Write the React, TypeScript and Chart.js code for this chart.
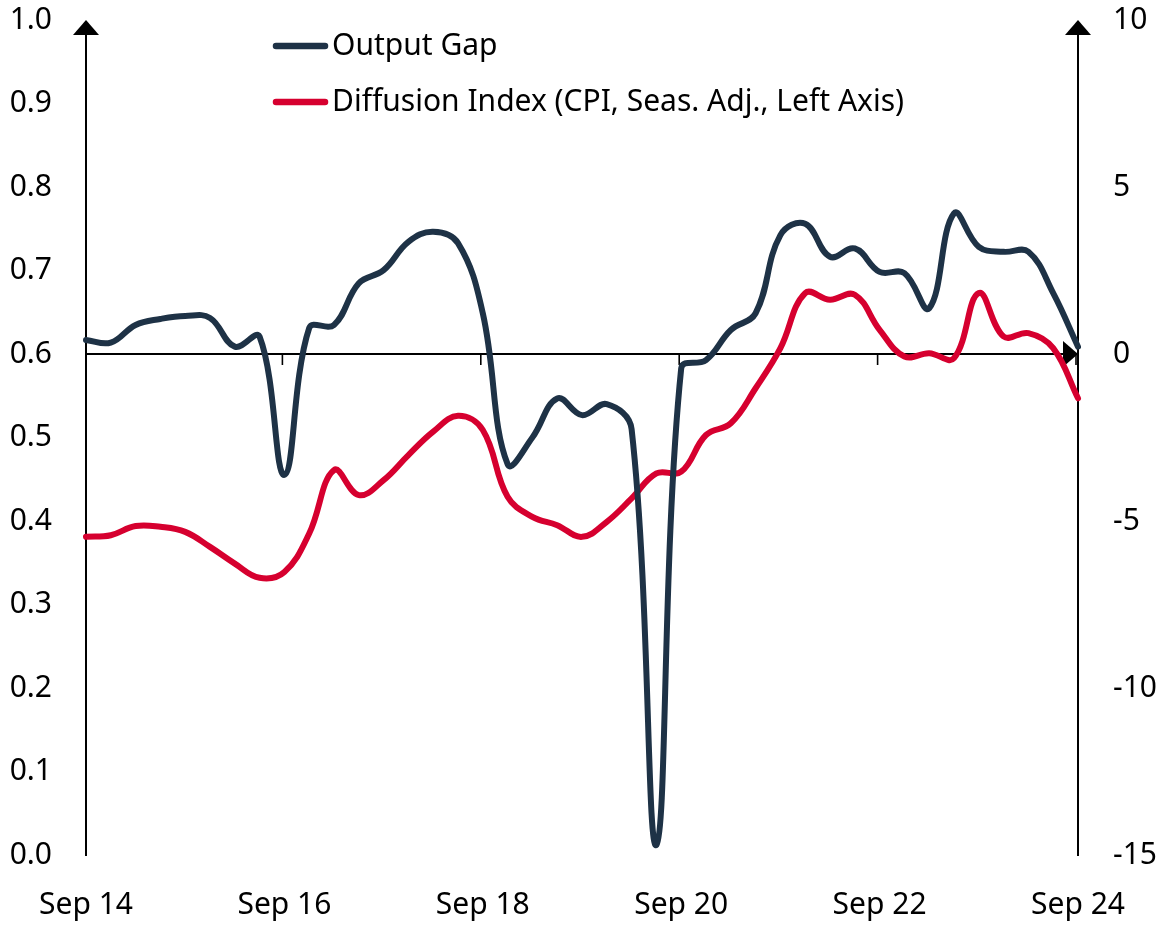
import React, { useEffect, useRef } from "react";
import { Chart, registerables } from "chart.js";

Chart.register(...registerables);

const quarters = [
  "Sep 14", "Dec 14",
  "Mar 15", "Jun 15", "Sep 15", "Dec 15",
  "Mar 16", "Jun 16", "Sep 16", "Dec 16",
  "Mar 17", "Jun 17", "Sep 17", "Dec 17",
  "Mar 18", "Jun 18", "Sep 18", "Dec 18",
  "Mar 19", "Jun 19", "Sep 19", "Dec 19",
  "Mar 20", "Jun 20", "Sep 20", "Dec 20",
  "Mar 21", "Jun 21", "Sep 21", "Dec 21",
  "Mar 22", "Jun 22", "Sep 22", "Dec 22",
  "Mar 23", "Jun 23", "Sep 23", "Dec 23",
  "Mar 24", "Jun 24", "Sep 24",
];

const tickLabels = ["Sep 14", "Sep 16", "Sep 18", "Sep 20", "Sep 22", "Sep 24"];

// Output gap, right axis
const outputGap = [
  0.42, 0.34, 0.87, 1.05, 1.14, 1.08, 0.22, 0.52, -3.62, 0.78,
  0.87, 2.12, 2.51, 3.36, 3.66, 3.32, 1.22, -3.3, -2.5, -1.33,
  -1.83, -1.5, -2.25, -14.7, -0.43, -0.18, 0.72, 1.22, 3.56, 3.9,
  2.91, 3.16, 2.46, 2.42, 1.37, 4.21, 3.21, 3.06, 3.06, 1.82,
  0.22,
];

// Diffusion index (CPI, seas. adj.), left axis
const diffusion = [
  0.381, 0.383, 0.394, 0.393, 0.387, 0.369, 0.349, 0.332, 0.339, 0.385,
  0.461, 0.431, 0.449, 0.479, 0.507, 0.526, 0.509, 0.429, 0.405, 0.395,
  0.381, 0.399, 0.427, 0.457, 0.459, 0.503, 0.517, 0.559, 0.607, 0.673,
  0.665, 0.671, 0.629, 0.597, 0.601, 0.595, 0.673, 0.621, 0.625, 0.607,
  0.547,
];

const seriesNames = ["Output Gap", "Diffusion Index (CPI, Seas. Adj., Left Axis)"];
const NAVY = "#1e3246";
const RED = "#d6002f";
const FONT = '"Noto Sans", sans-serif';

const axesPlugin = {
  id: "axesPlugin",
  beforeDatasetsDraw(chart: any) {
    const { ctx, chartArea, scales } = chart;
    const { left, right, top, bottom } = chartArea;
    const y0 = scales.y1.getPixelForValue(0);
    ctx.save();
    ctx.strokeStyle = "#000";
    ctx.fillStyle = "#000";
    ctx.lineWidth = 2;
    // vertical axes
    [left, right].forEach((x) => {
      ctx.beginPath();
      ctx.moveTo(x, bottom + 1);
      ctx.lineTo(x, top + 10);
      ctx.stroke();
      ctx.beginPath();
      ctx.moveTo(x, top);
      ctx.lineTo(x - 13, top + 15);
      ctx.lineTo(x + 13, top + 15);
      ctx.closePath();
      ctx.fill();
    });
    // horizontal zero axis
    ctx.lineWidth = 2;
    ctx.beginPath();
    ctx.moveTo(left, y0);
    ctx.lineTo(right - 10, y0);
    ctx.stroke();
    ctx.beginPath();
    ctx.moveTo(right, y0);
    ctx.lineTo(right - 15, y0 - 13);
    ctx.lineTo(right - 15, y0 + 13);
    ctx.closePath();
    ctx.fill();
    // tick marks
    ctx.lineWidth = 1.6;
    quarters.forEach((q, i) => {
      if (i % 8 === 0 && i > 0) {
        const x = scales.x.getPixelForValue(i) - 2;
        ctx.beginPath();
        ctx.moveTo(x, y0);
        ctx.lineTo(x, y0 + 11);
        ctx.stroke();
      }
    });
    ctx.restore();
  },
  afterDraw(chart: any) {
    const { ctx } = chart;
    ctx.save();
    const rows = [
      { color: NAVY, text: seriesNames[0], y: 46 },
      { color: RED, text: seriesNames[1], y: 102 },
    ];
    rows.forEach((r) => {
      ctx.strokeStyle = r.color;
      ctx.lineWidth = 6.5;
      ctx.lineCap = "round";
      ctx.beginPath();
      ctx.moveTo(276, r.y);
      ctx.lineTo(325, r.y);
      ctx.stroke();
      ctx.fillStyle = "#000";
      ctx.font = "30px " + FONT;
      ctx.textBaseline = "middle";
      ctx.textAlign = "left";
      ctx.fillText(r.text, 332, r.y);
    });
    ctx.restore();
  },
};

const fitVertical = (w: number) => (s: any) => {
  s.width = w;
  s.paddingTop = 0;
  s.paddingBottom = 0;
};

export default function App() {
  const ref = useRef<HTMLCanvasElement>(null);
  useEffect(() => {
    if (!ref.current) return;
    const chart = new Chart(ref.current, {
      type: "line",
      data: {
        labels: quarters,
        datasets: [
          {
            label: seriesNames[0],
            data: outputGap,
            yAxisID: "y1",
            borderColor: NAVY,
            borderWidth: 6,
            pointRadius: 0,
            tension: 0.4,
            borderCapStyle: "round",
            borderJoinStyle: "round",
            clip: false as any,
          },
          {
            label: seriesNames[1],
            data: diffusion,
            yAxisID: "y",
            borderColor: RED,
            borderWidth: 6,
            pointRadius: 0,
            tension: 0.4,
            borderCapStyle: "round",
            borderJoinStyle: "round",
            clip: false as any,
          },
        ],
      },
      options: {
        responsive: false,
        animation: false,
        layout: { padding: { top: 20, left: 0, right: 0, bottom: 0 } },
        plugins: { legend: { display: false }, tooltip: { enabled: false } },
        scales: {
          x: {
            type: "category",
            offset: false,
            grid: { display: false, drawTicks: false },
            border: { display: false },
            ticks: {
              autoSkip: false,
              maxRotation: 0,
              minRotation: 0,
              padding: 32,
              color: "#000",
              font: { family: FONT, size: 30 },
              callback: (v: any, i: number) => (tickLabels.includes(quarters[i]) && i % 8 === 0 ? quarters[i] : ""),
            },
            afterFit: (s: any) => {
              s.height = 71;
              s.paddingLeft = 0;
              s.paddingRight = 0;
            },
          },
          y: {
            position: "left",
            min: 0,
            max: 1,
            grid: { display: false, drawTicks: false },
            border: { display: false },
            ticks: {
              stepSize: 0.1,
              padding: 34,
              color: "#000",
              font: { family: FONT, size: 30 },
              callback: (v: any) => Number(v).toFixed(1),
            },
            afterFit: fitVertical(86),
          },
          y1: {
            position: "right",
            min: -15,
            max: 10,
            grid: { display: false, drawTicks: false },
            border: { display: false },
            ticks: {
              stepSize: 5,
              padding: 35,
              color: "#000",
              font: { family: FONT, size: 30 },
            },
            afterFit: fitVertical(85),
          },
        },
      },
      plugins: [axesPlugin],
    });
    return () => chart.destroy();
  }, []);
  return (
    <div style={{ position: "fixed", left: 0, top: 0, width: 1163, height: 926, background: "#fff" }}>
      <canvas ref={ref} width={1163} height={926} style={{ display: "block" }} />
    </div>
  );
}
